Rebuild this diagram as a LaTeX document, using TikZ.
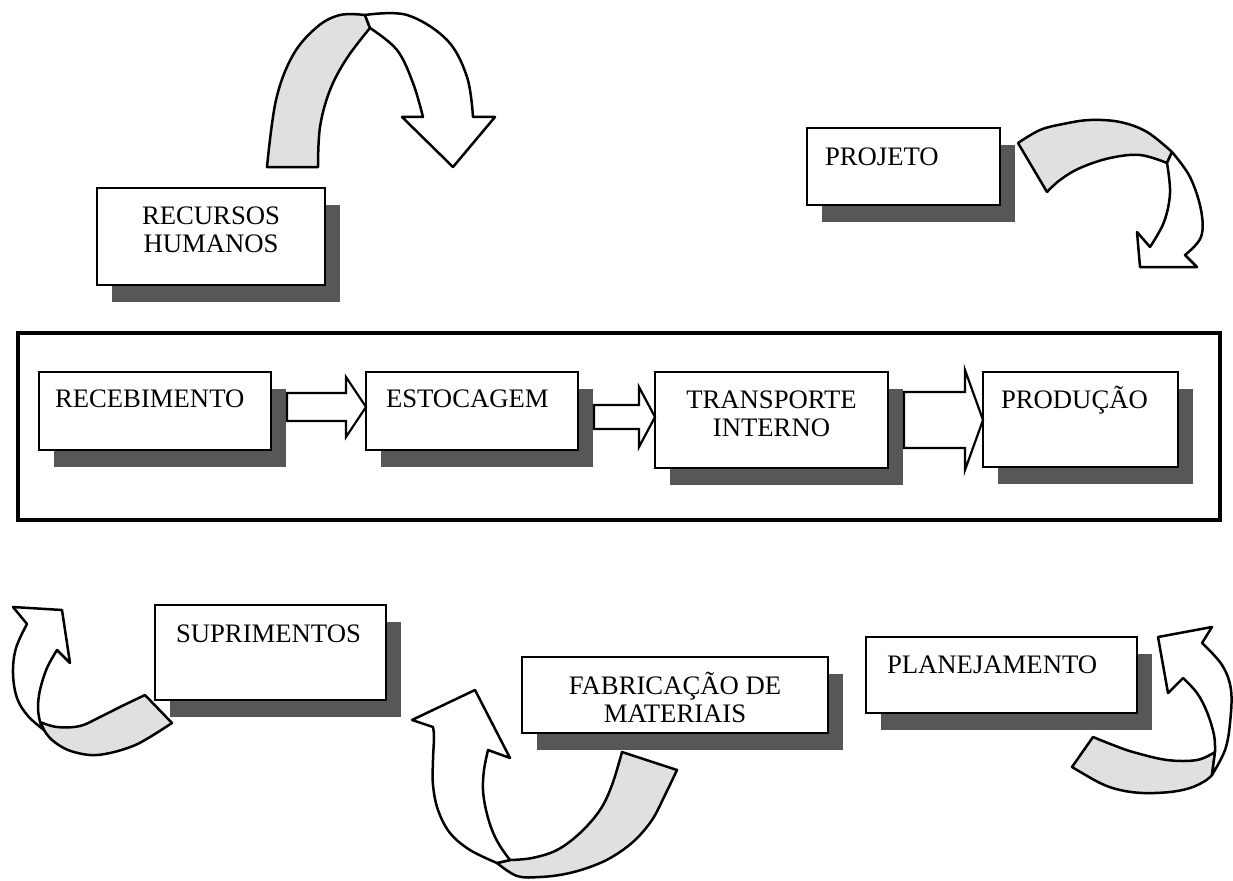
\documentclass[tikz,border=0pt]{standalone}
\usepackage{fontspec}
\setmainfont{Liberation Serif}
\usetikzlibrary{calc,shadows}
\begin{document}
\begin{tikzpicture}[x=1pt,y=-1pt,
  box/.style={draw, line width=2.2pt, fill=white, rectangle, inner sep=0pt, outer sep=0pt, anchor=north west,
    drop shadow={shadow xshift=15pt, shadow yshift=-17pt, opacity=1, fill=black!66}},
  txt/.style={font=\fontsize{26.7}{28}\selectfont, inner sep=0pt, outer sep=0pt},
  frame/.style={draw, line width=4.8pt},
  barrow/.style={draw, line width=2.2pt, fill=white, line join=miter},
  band/.style={draw, line width=2.5pt, fill=black!12, line join=round},
  front/.style={draw, line width=2.5pt, fill=white, line join=round},
  sm/.style={smooth, tension=0.6}
]
\useasboundingbox (0,0) rectangle (1233,880);

% main frame
\draw[frame] (18,333) rectangle (1220,520);

% boxes
\node[box, minimum width=232pt, minimum height=78pt] (rec) at (39,372) {};
\node[box, minimum width=212pt, minimum height=78pt] (est) at (366,372) {};
\node[box, minimum width=233pt, minimum height=96pt] (tra) at (655,372) {};
\node[box, minimum width=195pt, minimum height=95pt] (pro) at (983,372) {};
\node[box, minimum width=228pt, minimum height=97pt] (rh) at (97,188) {};
\node[box, minimum width=193pt, minimum height=77pt] (proj) at (807,128) {};
\node[box, minimum width=231pt, minimum height=95pt] (sup) at (155,605) {};
\node[box, minimum width=306pt, minimum height=76pt] (fab) at (522,657) {};
\node[box, minimum width=271pt, minimum height=76pt] (plan) at (866,637) {};

% texts
\node[txt, anchor=base west] (recT) at ([shift={(16,35)}]rec.north west) {RECEBIMENTO};
\node[txt, anchor=base west] (estT) at ([shift={(20,35)}]est.north west) {ESTOCAGEM};
\node[txt, anchor=base] (traT) at ([shift={(0,36)}]tra.north) {\begin{tabular}[t]{@{}c@{}}TRANSPORTE\\INTERNO\end{tabular}};
\node[txt, anchor=base west] (proT) at ([shift={(18,36)}]pro.north west) {PRODUÇÃO};
\node[txt, anchor=base] (rhT) at ([shift={(0,36)}]rh.north) {\begin{tabular}[t]{@{}c@{}}RECURSOS\\HUMANOS\end{tabular}};
\node[txt, anchor=base west] (projT) at ([shift={(18,37)}]proj.north west) {PROJETO};
\node[txt, anchor=base west] (supT) at ([shift={(21,37)}]sup.north west) {SUPRIMENTOS};
\node[txt, anchor=base] (fabT) at ([shift={(0,37)}]fab.north) {\begin{tabular}[t]{@{}c@{}}FABRICAÇÃO DE\\MATERIAIS\end{tabular}};
\node[txt, anchor=base west] (planT) at ([shift={(21,36)}]plan.north west) {PLANEJAMENTO};

% block arrows in the frame
\draw[barrow] let \p1=(rec.east), \p2=(est.west) in
  (\x1+16pt,\y1+18pt) -- (\x2-20pt,\y1+18pt) -- (\x2-20pt,\y1+34pt) -- (\x2,\y1+4pt)
  -- (\x2-20pt,\y1-26pt) -- (\x2-20pt,\y1-10pt) -- (\x1+16pt,\y1-10pt) -- cycle;
\draw[barrow] let \p1=(est.east), \p2=(tra.west) in
  (\x1+16pt,\y1+6pt) -- (\x2-16pt,\y1+6pt) -- (\x2-16pt,\y1+24pt) -- (\x2,\y1-6pt)
  -- (\x2-16pt,\y1-36pt) -- (\x2-16pt,\y1-18pt) -- (\x1+16pt,\y1-18pt) -- cycle;
\draw[barrow] let \p1=(tra.east), \p2=(pro.west) in
  (\x1+16pt,\y1+28pt) -- (\x2-18pt,\y1+28pt) -- (\x2-18pt,\y1+50pt) -- (\x2,\y1)
  -- (\x2-18pt,\y1-50pt) -- (\x2-18pt,\y1-28pt) -- (\x1+16pt,\y1-28pt) -- cycle;

% curved arrow top left
\draw[band] (267,167) -- (318,167) -- plot[sm] coordinates {(318,167) (320,127) (330,90) (347,58) (370,28)}
  -- (365,15) -- plot[sm] coordinates {(365,15) (340,15) (317,27) (293,55) (276,100) (267,167)} -- cycle;
\draw[front] (365,15) -- plot[sm] coordinates {(365,15) (407,15) (447,40) (467,77) (473,117)}
  -- (495,117) -- (453,167) -- (402,117) -- (423,117)
  -- plot[sm] coordinates {(423,117) (413,83) (397,50) (370,28)} -- cycle;

% curved arrow top right
\draw[band] (1018,143) -- plot[sm] coordinates {(1018,143) (1040,130) (1063,124) (1090,120) (1120,122) (1147,132) (1172,152)}
  -- (1167,163) -- plot[sm] coordinates {(1167,163) (1140,155) (1110,158) (1080,168) (1060,180) (1047,192)} -- cycle;
\draw[front] (1172,152) -- plot[sm] coordinates {(1172,152) (1190,177) (1201,210) (1201,237) (1185,255)}
  -- (1197,267) -- (1140,267) -- (1137,232) -- (1150,247)
  -- plot[sm] coordinates {(1150,247) (1164,222) (1170,193) (1167,163)} -- cycle;

% curved arrow bottom left
\draw[band] (145,695) -- (172,723) -- plot[sm] coordinates {(172,723) (150,737) (133,746) (110,753) (90,755) (68,750) (52,740) (44,730)}
  -- (40,722) -- plot[sm] coordinates {(40,722) (57,727) (80,726) (100,717) (122,706) (145,695)} -- cycle;
\draw[front] (44,730) -- plot[sm] coordinates {(44,730) (28,716) (17,698) (13,673) (16,648) (27,624)}
  -- (13,607) -- (62,610) -- (70,663) -- (57,650)
  -- plot[sm] coordinates {(57,650) (47,668) (40,690) (38,708) (40,722)} -- cycle;

% curved arrow bottom middle
\draw[band] (622,752) -- (677,770) -- plot[sm] coordinates {(677,770) (665,795) (652,820) (634,841) (612,857) (590,867) (565,874) (540,877) (517,876) (497,863)}
  -- (510,860) -- plot[sm] coordinates {(510,860) (532,858) (557,850) (580,833) (600,810) (612,785) (622,752)} -- cycle;
\draw[front] (497,863) -- plot[sm] coordinates {(497,863) (470,850) (450,833) (438,810) (433,785) (433,760) (434,737) (433,727)}
  -- (412,720) -- (475,690) -- (510,758) -- (488,750)
  -- plot[sm] coordinates {(488,750) (484,770) (483,790) (486,810) (492,830) (500,846) (510,860)} -- cycle;

% curved arrow bottom right
\draw[band] (1093,737) -- plot[sm] coordinates {(1093,737) (1113,745) (1133,752) (1167,760) (1197,760) (1215,752)}
  -- (1212,775) -- plot[sm] coordinates {(1212,775) (1205,781) (1190,788) (1170,792) (1143,793) (1120,790) (1100,783) (1072,767)} -- cycle;
\draw[front] (1212,775) -- plot[sm] coordinates {(1212,775) (1225,750) (1230,723) (1231,690) (1222,665) (1202,643)}
  -- (1212,627) -- (1158,637) -- (1168,693) -- (1183,678)
  -- plot[sm] coordinates {(1183,678) (1197,693) (1207,712) (1214,735) (1215,752)} -- cycle;
\end{tikzpicture}
\end{document}
